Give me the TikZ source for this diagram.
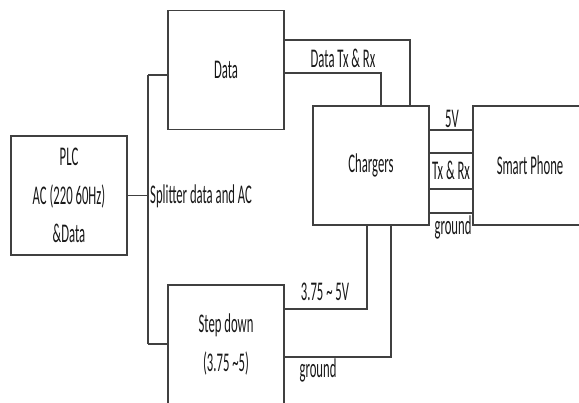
\documentclass[tikz,border=0pt]{standalone}
\usepackage{fontspec}
\setmainfont{Carlito}[FakeStretch=0.47]
\begin{document}
\begin{tikzpicture}[x=1pt,y=-1pt,
  every node/.style={font=\fontsize{27}{38.5}\selectfont, text=black!90},
  blk/.style={draw=black!75, line width=1.4pt, minimum width=116pt, minimum height=119pt, inner sep=0pt, align=center},
  wire/.style={draw=black!75, line width=1.4pt},
  lbl/.style={inner sep=0pt}]
\useasboundingbox (0,0) rectangle (579,403);
\node[blk] (PLC) at (69,195.5) {PLC\\AC (220 60Hz)\\\&Data};
\node[blk] (Data) at (226,70) {Data};
\node[blk] (Chg) at (371,165.5) {Chargers};
\node[blk, minimum width=114pt] (Phone) at (530,165.5) {Smart Phone};
\node[blk] (Step) at (226,344.5) {Step down\\(3.75 \textasciitilde5)};
\coordinate (bt) at (148,75);
\coordinate (bb) at (148,344);
\draw[wire] (bt) -- (bb);
\draw[wire] (PLC.east) -- (PLC.east -| bt);
\draw[wire] (bt) -- (bt -| Data.west);
\draw[wire] (bb) -- (bb -| Step.west);
\node[lbl, anchor=west] (spl) at (150,196) {Splitter data and AC};
\draw[wire] (Data.east |- 0,40) -| (410,0 |- Chg.north);
\draw[wire] (Data.east |- 0,73) -| (381,0 |- Chg.north);
\node[lbl] (dtx) at (343,58) {Data Tx \& Rx};
\draw[wire] (Step.east |- 0,309) -| (367,0 |- Chg.south);
\draw[wire] (Step.east |- 0,357) -| (391,0 |- Chg.south);
\node[lbl] (v375) at (325,292) {3.75 \textasciitilde\ 5V};
\node[lbl] (gnd1) at (318,370) {ground};
\foreach \yy in {130,153,189,213} \draw[wire] (Chg.east |- 0,\yy) -- (Phone.west |- 0,\yy);
\node[lbl] (v5) at (452,119) {5V};
\node[lbl] (txrx) at (451,170) {Tx \& Rx};
\node[lbl] (gnd2) at (453,227) {ground};
\end{tikzpicture}
\end{document}
